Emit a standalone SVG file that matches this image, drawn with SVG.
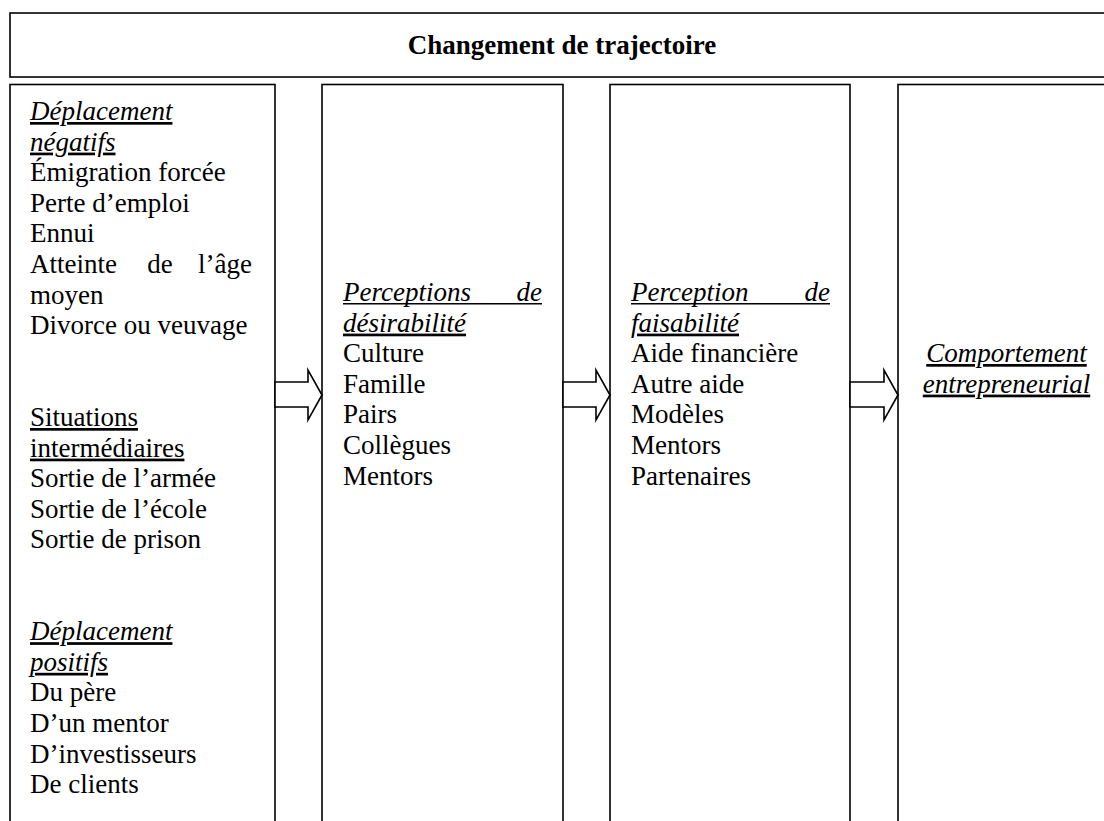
<svg xmlns="http://www.w3.org/2000/svg" width="1104" height="821" viewBox="0 0 1104 821">
  <style>
    .box { fill: #ffffff; stroke: #000000; stroke-width: 1.6; }
    .arrow { fill: #ffffff; stroke: #000000; stroke-width: 1.6; stroke-linejoin: miter; }
    text { font-family: "Liberation Serif", "Times New Roman", serif; font-size: 27px; fill: #000000; }
    .title { font-weight: bold; text-anchor: middle; }
    .head { font-style: italic; text-decoration: underline; }
    .headu { text-decoration: underline; }
    .it { font-style: italic; }
    .ul { stroke: #000000; stroke-width: 1.4; }
  </style>
  <rect width="1104" height="821" fill="#ffffff"/>

  <!-- banner across the top -->
  <g id="trajectoire">
    <rect class="box" x="10" y="13" width="1110" height="64"/>
    <text class="title" x="562" y="54">Changement de trajectoire</text>
  </g>

  <!-- column 1: triggers -->
  <g id="declencheurs">
    <rect class="box" x="10" y="84.5" width="265" height="760"/>
    <text class="head" x="30" y="120">Déplacement</text>
    <text class="head" x="30" y="150.6">négatifs</text>
    <text x="30" y="181.2">Émigration forcée</text>
    <text x="30" y="211.8">Perte d’emploi</text>
    <text x="30" y="242.4">Ennui</text>
    <text x="30" y="273">Atteinte</text>
    <text x="160" y="273" text-anchor="middle">de</text>
    <text x="252" y="273" text-anchor="end">l’âge</text>
    <text x="30" y="303.6">moyen</text>
    <text x="30" y="334.2">Divorce ou veuvage</text>
    <text class="headu" x="30" y="426">Situations</text>
    <text class="headu" x="30" y="456.6">intermédiaires</text>
    <text x="30" y="487.2">Sortie de l’armée</text>
    <text x="30" y="517.8">Sortie de l’école</text>
    <text x="30" y="548.4">Sortie de prison</text>
    <text class="head" x="30" y="640.2">Déplacement</text>
    <text class="head" x="30" y="670.8">positifs</text>
    <text x="30" y="701.4">Du père</text>
    <text x="30" y="732">D’un mentor</text>
    <text x="30" y="762.6">D’investisseurs</text>
    <text x="30" y="793.2">De clients</text>
  </g>

  <!-- column 2: desirability -->
  <g id="desirabilite">
    <rect class="box" x="322" y="84.5" width="241" height="760"/>
    <text class="it" x="343" y="301">Perceptions</text>
    <text class="it" x="542" y="301" text-anchor="end">de</text>
    <line class="ul" x1="343" y1="303.8" x2="542" y2="303.8"/>
    <text class="head" x="343" y="331.6">désirabilité</text>
    <text x="343" y="362.2">Culture</text>
    <text x="343" y="392.8">Famille</text>
    <text x="343" y="423.4">Pairs</text>
    <text x="343" y="454">Collègues</text>
    <text x="343" y="484.6">Mentors</text>
  </g>

  <!-- column 3: feasibility -->
  <g id="faisabilite">
    <rect class="box" x="610" y="84.5" width="240" height="760"/>
    <text class="it" x="631" y="301">Perception</text>
    <text class="it" x="830" y="301" text-anchor="end">de</text>
    <line class="ul" x1="631" y1="303.8" x2="830" y2="303.8"/>
    <text class="head" x="631" y="331.6">faisabilité</text>
    <text x="631" y="362.2">Aide financière</text>
    <text x="631" y="392.8">Autre aide</text>
    <text x="631" y="423.4">Modèles</text>
    <text x="631" y="454">Mentors</text>
    <text x="631" y="484.6">Partenaires</text>
  </g>

  <!-- column 4: outcome -->
  <g id="comportement">
    <rect class="box" x="898" y="84.5" width="230" height="760"/>
    <text class="head" x="1006.5" y="362" text-anchor="middle">Comportement</text>
    <text class="head" x="1006.5" y="392.6" text-anchor="middle">entrepreneurial</text>
  </g>

  <!-- block arrows between columns -->
  <g id="connecteurs">
    <polygon class="arrow" points="275,382 308,382 308,370 322,395 308,420 308,407 275,407"/>
    <polygon class="arrow" points="563,382 596,382 596,370 610,395 596,420 596,407 563,407"/>
    <polygon class="arrow" points="850,382 884,382 884,370 898,395 884,420 884,407 850,407"/>
  </g>
</svg>
